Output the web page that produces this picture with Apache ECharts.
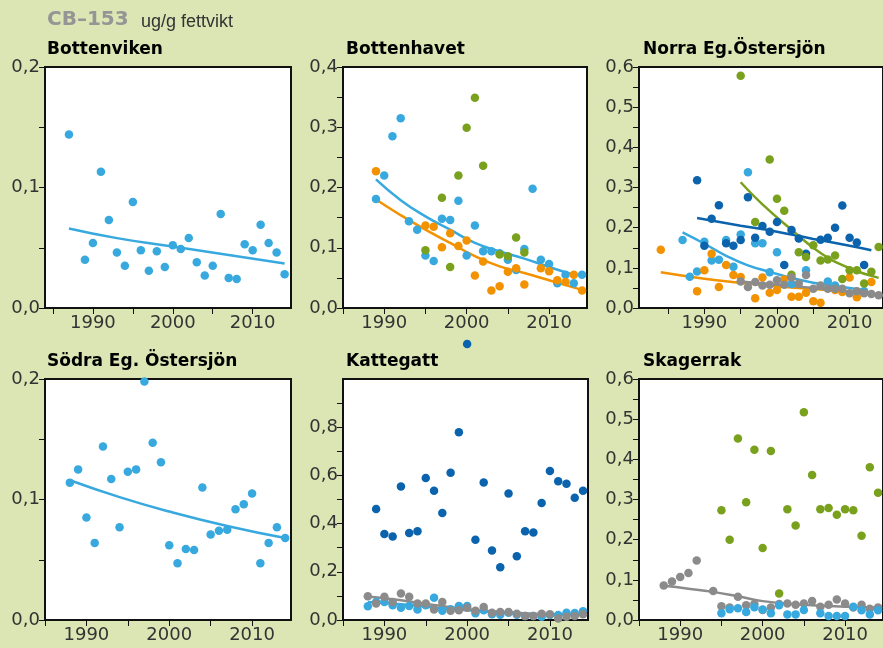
<!DOCTYPE html>
<html>
<head>
<meta charset="utf-8">
<script src="https://cdn.jsdelivr.net/npm/echarts@6/dist/echarts.min.js"></script>
<style>
html,body{margin:0;padding:0;background:#dce5b4;}
#chart{width:883px;height:648px;}
</style>
</head>
<body>
<div id="chart"></div>
<script>
// ---------- DATA ----------
const panelTitles = ['Bottenviken','Bottenhavet','Norra Eg.Östersjön','Södra Eg. Östersjön','Kattegatt','Skagerrak'];
const xLabelYears = [1990, 2000, 2010];
const xTickYears = [1985, 1990, 1995, 2000, 2005, 2010];

// Bottenviken (light blue)
const bvYears = [1987,1989,1990,1991,1992,1993,1994,1995,1996,1997,1998,1999,2000,2001,2002,2003,2004,2005,2006,2007,2008,2009,2010,2011,2012,2013,2014];
const bvVals  = [0.144,0.040,0.054,0.113,0.073,0.046,0.035,0.088,0.048,0.031,0.047,0.034,0.052,0.049,0.058,0.038,0.027,0.035,0.078,0.025,0.024,0.053,0.048,0.069,0.054,0.046,0.028];
const bvTrendYears = [1987,1993,2000,2007,2014];
const bvTrendVals  = [0.066,0.058,0.051,0.044,0.037];

// Bottenhavet
const bhLbYears = [1989,1990,1991,1992,1993,1994,1995,1996,1997,1998,1999,2000,2001,2002,2003,2004,2005,2006,2007,2008,2009,2010,2011,2012,2013,2014];
const bhLbVals  = [0.181,0.220,0.285,0.315,0.144,0.130,0.087,0.078,0.148,0.146,0.178,0.087,0.137,0.094,0.094,0.091,0.080,0.063,0.098,0.198,0.080,0.073,0.041,0.055,0.041,0.055];
const bhOrYears = [1989,1995,1996,1997,1998,1999,2000,2001,2002,2003,2004,2005,2006,2007,2009,2010,2011,2012,2013,2014];
const bhOrVals  = [0.227,0.137,0.135,0.101,0.124,0.103,0.112,0.054,0.077,0.029,0.036,0.060,0.066,0.039,0.066,0.061,0.046,0.043,0.055,0.029];
const bhGrYears = [1995,1997,1998,1999,2000,2001,2002,2004,2005,2006,2007];
const bhGrVals  = [0.096,0.183,0.068,0.220,0.299,0.349,0.236,0.089,0.086,0.117,0.092];
const bhLbTrendYears = [1989,1992,1995,1998,2001,2004,2007,2010,2013];
const bhLbTrendVals  = [0.2135,0.179,0.152,0.130,0.108,0.094,0.082,0.068,0.055];
const bhOrTrendYears = [1989,1992,1995,1998,2001,2004,2007,2010,2014];
const bhOrTrendVals  = [0.180,0.154,0.130,0.108,0.086,0.069,0.058,0.046,0.030];

// Norra Eg. Östersjön
const noDbYears = [1989,1990,1991,1992,1993,1994,1995,1996,1997,1998,1999,2000,2001,2002,2003,2004,2006,2007,2008,2009,2010,2011,2012];
const noDbVals  = [0.318,0.155,0.222,0.256,0.161,0.155,0.169,0.276,0.175,0.204,0.190,0.214,0.107,0.194,0.173,0.135,0.170,0.175,0.200,0.255,0.175,0.163,0.107];
const noLbYears = [1987,1988,1989,1990,1991,1992,1993,1994,1995,1996,1997,1998,1999,2000,2002,2004,2007,2008,2012];
const noLbVals  = [0.169,0.078,0.091,0.165,0.118,0.120,0.169,0.103,0.183,0.338,0.161,0.161,0.089,0.139,0.060,0.094,0.066,0.056,0.042];
const noOrYears = [1984,1989,1990,1991,1992,1993,1994,1995,1997,1998,1999,2000,2001,2002,2003,2004,2005,2006,2008,2009,2010,2011,2013];
const noOrVals  = [0.145,0.042,0.094,0.135,0.052,0.107,0.082,0.077,0.024,0.076,0.038,0.045,0.071,0.028,0.028,0.038,0.017,0.013,0.045,0.040,0.076,0.027,0.065];
const noGrYears = [1995,1997,1999,2000,2001,2002,2003,2004,2005,2006,2007,2008,2009,2010,2011,2012,2013,2014];
const noGrVals  = [0.578,0.214,0.370,0.272,0.242,0.083,0.139,0.127,0.156,0.118,0.121,0.131,0.072,0.094,0.094,0.061,0.090,0.152];
const noGyYears = [1995,1996,1997,1998,1999,2000,2001,2002,2003,2004,2005,2006,2007,2008,2009,2010,2011,2012,2013,2014];
const noGyVals  = [0.066,0.052,0.065,0.056,0.058,0.069,0.058,0.076,0.061,0.082,0.048,0.056,0.048,0.048,0.048,0.037,0.042,0.037,0.035,0.032];
const noDbTrendYears = [1989,1995,2000,2005,2010,2013];
const noDbTrendVals  = [0.224,0.205,0.190,0.172,0.155,0.144];
const noLbTrendYears = [1987,1990,1993,1996,1999,2002,2005,2008,2012];
const noLbTrendVals  = [0.188,0.160,0.130,0.106,0.090,0.075,0.063,0.055,0.045];
const noOrTrendYears = [1984,1990,1995,2000,2005,2010,2013];
const noOrTrendVals  = [0.089,0.073,0.063,0.054,0.047,0.040,0.037];
const noGrTrendYears = [1995,1998,2002,2006,2010,2014];
const noGrTrendVals  = [0.313,0.258,0.195,0.137,0.099,0.075];
const noGyTrendYears = [1995,2000,2005,2010,2014];
const noGyTrendVals  = [0.066,0.058,0.050,0.040,0.033];

// Södra Eg. Östersjön
const soYears = [1988,1989,1990,1991,1992,1993,1994,1995,1996,1997,1998,1999,2000,2001,2002,2003,2004,2005,2006,2007,2008,2009,2010,2011,2012,2013,2014];
const soVals  = [0.114,0.125,0.085,0.064,0.144,0.117,0.077,0.123,0.125,0.198,0.147,0.131,0.062,0.047,0.059,0.058,0.110,0.071,0.074,0.075,0.092,0.096,0.105,0.047,0.064,0.077,0.068];
const soTrendYears = [1988,1994,2000,2007,2014];
const soTrendVals  = [0.116,0.102,0.090,0.078,0.068];

// Kattegatt
const kaDbYears = [1989,1990,1991,1992,1993,1994,1995,1996,1997,1998,1999,2000,2001,2002,2003,2004,2005,2006,2007,2008,2009,2010,2011,2012,2013,2014];
const kaDbVals  = [0.461,0.357,0.346,0.554,0.361,0.368,0.589,0.536,0.444,0.611,0.779,1.145,0.333,0.571,0.288,0.219,0.525,0.265,0.368,0.363,0.485,0.618,0.576,0.565,0.507,0.536];
const kaYears   = [1988,1989,1990,1991,1992,1993,1994,1995,1996,1997,1998,1999,2000,2001,2002,2003,2004,2005,2006,2007,2008,2009,2010,2011,2012,2013,2014];
const kaLbVals  = [0.057,0.075,0.075,0.061,0.051,0.058,0.044,0.061,0.092,0.038,0.045,0.058,0.058,0.028,0.040,0.024,0.022,0.030,0.022,0.017,0.017,0.014,0.021,0.021,0.030,0.029,0.036];
const kaGyVals  = [0.099,0.068,0.096,0.075,0.110,0.096,0.068,0.068,0.044,0.075,0.038,0.040,0.051,0.038,0.054,0.030,0.033,0.033,0.026,0.017,0.017,0.026,0.024,0.006,0.014,0.017,0.024];
const kaLbTrendYears = [1988,1992,1996,2000,2004,2008,2014];
const kaLbTrendVals  = [0.075,0.065,0.052,0.040,0.030,0.024,0.022];
const kaGyTrendYears = [1988,1992,1996,2000,2004,2008,2014];
const kaGyTrendVals  = [0.098,0.082,0.062,0.045,0.034,0.026,0.020];

// Skagerrak
const skGrYears = [1995,1996,1997,1998,1999,2000,2001,2002,2003,2004,2005,2006,2007,2008,2009,2010,2011,2012,2013,2014];
const skGrVals  = [0.273,0.200,0.452,0.293,0.424,0.179,0.421,0.066,0.276,0.235,0.517,0.361,0.276,0.279,0.262,0.276,0.273,0.210,0.380,0.317];
const skGyYears = [1988,1989,1990,1991,1992,1994,1995,1996,1997,1998,1999,2000,2001,2002,2003,2004,2005,2006,2007,2008,2009,2010,2011,2012,2013,2014];
const skGyVals  = [0.086,0.096,0.107,0.117,0.148,0.072,0.034,0.031,0.058,0.037,0.040,0.025,0.031,0.040,0.041,0.038,0.041,0.047,0.033,0.038,0.051,0.041,0.031,0.038,0.028,0.031];
const skLbYears = [1995,1996,1997,1998,1999,2000,2001,2002,2003,2004,2005,2007,2008,2009,2010,2011,2012,2013,2014];
const skLbVals  = [0.017,0.027,0.029,0.020,0.032,0.026,0.017,0.037,0.014,0.014,0.025,0.017,0.010,0.010,0.010,0.033,0.024,0.014,0.024];
const skGyTrendYears = [1988,1991,1994,1997,2000,2005,2010,2014];
const skGyTrendVals  = [0.085,0.078,0.070,0.059,0.047,0.038,0.033,0.031];

// ---------- STYLE ----------
const C = { lb:'#38a9de', db:'#0a63ac', or:'#f39200', gr:'#7aa11d', gy:'#8b8b8b' };
const BG = '#dce5b4';
const AX = '#111111';
const LBL = '#333333';

const pairs = (ys, vs) => ys.map((y, i) => [y, vs[i]]);

const gridDefs = [
  {left:45,  top:67, width:246, height:241},
  {left:343, top:67, width:244, height:241},
  {left:639, top:67, width:246, height:241},
  {left:45,  top:379, width:246, height:241},
  {left:343, top:379, width:245, height:241},
  {left:639, top:379, width:247, height:241}
];
const xRanges = [[1984,2014.8],[1985,2014.6],[1981,2014.6],[1985,2014.7],[1985,2014.6],[1985,2014.6]];
const yMax = [0.2, 0.4, 0.6, 0.2, 1.0, 0.6];
const yLabelVals = [
  [0,0.1,0.2],[0,0.1,0.2,0.3,0.4],[0,0.1,0.2,0.3,0.4,0.5,0.6],
  [0,0.1,0.2],[0,0.2,0.4,0.6,0.8],[0,0.1,0.2,0.3,0.4,0.5,0.6]
];
const yTickVals = [
  [0,0.05,0.1,0.15,0.2],
  [0,0.05,0.1,0.15,0.2,0.25,0.3,0.35,0.4],
  [0,0.05,0.1,0.15,0.2,0.25,0.3,0.35,0.4,0.45,0.5,0.55,0.6],
  [0,0.05,0.1,0.15,0.2],
  [0,0.1,0.2,0.3,0.4,0.5,0.6,0.7,0.8,0.9],
  [0,0.05,0.1,0.15,0.2,0.25,0.3,0.35,0.4,0.45,0.5,0.55,0.6]
];

const grid = gridDefs.map(g => Object.assign({show:true, backgroundColor:'#fff', borderColor:AX, borderWidth:2, containLabel:false}, g));

const xAxis = gridDefs.map((g, i) => ({
  type:'value', gridIndex:i, min:xRanges[i][0], max:xRanges[i][1],
  splitLine:{show:false},
  axisLine:{show:true, onZero:false, lineStyle:{color:AX, width:2}},
  axisTick:{show:true, customValues:xTickYears, length:6, lineStyle:{color:AX, width:1}},
  axisLabel:{show:true, customValues:xLabelYears, margin:6, fontFamily:'DejaVu Sans', fontSize:18, color:LBL, formatter: v => String(v)}
}));
const yAxis = gridDefs.map((g, i) => ({
  type:'value', gridIndex:i, min:0, max:yMax[i],
  splitLine:{show:false},
  axisLine:{show:true, lineStyle:{color:AX, width:2}},
  axisTick:{show:true, customValues:yTickVals[i], length:6, lineStyle:{color:AX, width:1}},
  axisLabel:{show:true, customValues:yLabelVals[i], margin:5, fontFamily:'DejaVu Sans', fontSize:18, color:LBL,
    formatter: v => v.toFixed(1).replace('.', ',')}
}));

const series = [];
function dots(i, ys, vs, color) {
  series.push({type:'scatter', xAxisIndex:i, yAxisIndex:i, data:pairs(ys, vs), symbol:'circle', symbolSize:8.5,
    itemStyle:{color:color, opacity:1}, z:3, clip:false, silent:true});
}
function trend(i, ys, vs, color) {
  series.push({type:'line', xAxisIndex:i, yAxisIndex:i, data:pairs(ys, vs), smooth:true, showSymbol:false, symbol:'none',
    lineStyle:{color:color, width:2.5}, z:2, silent:true});
}
// Panel 0
trend(0, bvTrendYears, bvTrendVals, C.lb);
dots(0, bvYears, bvVals, C.lb);
// Panel 1
trend(1, bhLbTrendYears, bhLbTrendVals, C.lb);
trend(1, bhOrTrendYears, bhOrTrendVals, C.or);
dots(1, bhLbYears, bhLbVals, C.lb);
dots(1, bhGrYears, bhGrVals, C.gr);
dots(1, bhOrYears, bhOrVals, C.or);
// Panel 2
trend(2, noDbTrendYears, noDbTrendVals, C.db);
trend(2, noLbTrendYears, noLbTrendVals, C.lb);
trend(2, noOrTrendYears, noOrTrendVals, C.or);
trend(2, noGrTrendYears, noGrTrendVals, C.gr);
trend(2, noGyTrendYears, noGyTrendVals, C.gy);
dots(2, noLbYears, noLbVals, C.lb);
dots(2, noOrYears, noOrVals, C.or);
dots(2, noDbYears, noDbVals, C.db);
dots(2, noGrYears, noGrVals, C.gr);
dots(2, noGyYears, noGyVals, C.gy);
// Panel 3
trend(3, soTrendYears, soTrendVals, C.lb);
dots(3, soYears, soVals, C.lb);
// Panel 4
trend(4, kaLbTrendYears, kaLbTrendVals, C.lb);
trend(4, kaGyTrendYears, kaGyTrendVals, C.gy);
dots(4, kaYears, kaLbVals, C.lb);
dots(4, kaYears, kaGyVals, C.gy);
dots(4, kaDbYears, kaDbVals, C.db);
// Panel 5
trend(5, skGyTrendYears, skGyTrendVals, C.gy);
dots(5, skGyYears, skGyVals, C.gy);
dots(5, skLbYears, skLbVals, C.lb);
dots(5, skGrYears, skGrVals, C.gr);

const titleStyle = {fontFamily:'DejaVu Sans', fontWeight:'bold', fontSize:17, color:'#000'};
const titlePos = [[47,41],[346,41],[643,41],[47,353],[346,353],[643,353]];
const title = [
  {text:'CB–153', left:47, top:10, padding:0, textStyle:{fontFamily:'DejaVu Sans', fontWeight:'bold', fontSize:20, color:'#959595'}},
  {text:'ug/g fettvikt', left:141, top:13, padding:0, textStyle:{fontFamily:'Liberation Sans', fontWeight:'normal', fontSize:18, color:'#333'}}
].concat(panelTitles.map((t, i) => ({text:t, left:titlePos[i][0], top:titlePos[i][1], padding:0, textStyle:titleStyle})));

const chart = echarts.init(document.getElementById('chart'), null, {renderer:'canvas'});
chart.setOption({
  backgroundColor: BG,
  animation:false,
  title: title,
  grid: grid,
  xAxis: xAxis,
  yAxis: yAxis,
  series: series
});
</script>
</body>
</html>
